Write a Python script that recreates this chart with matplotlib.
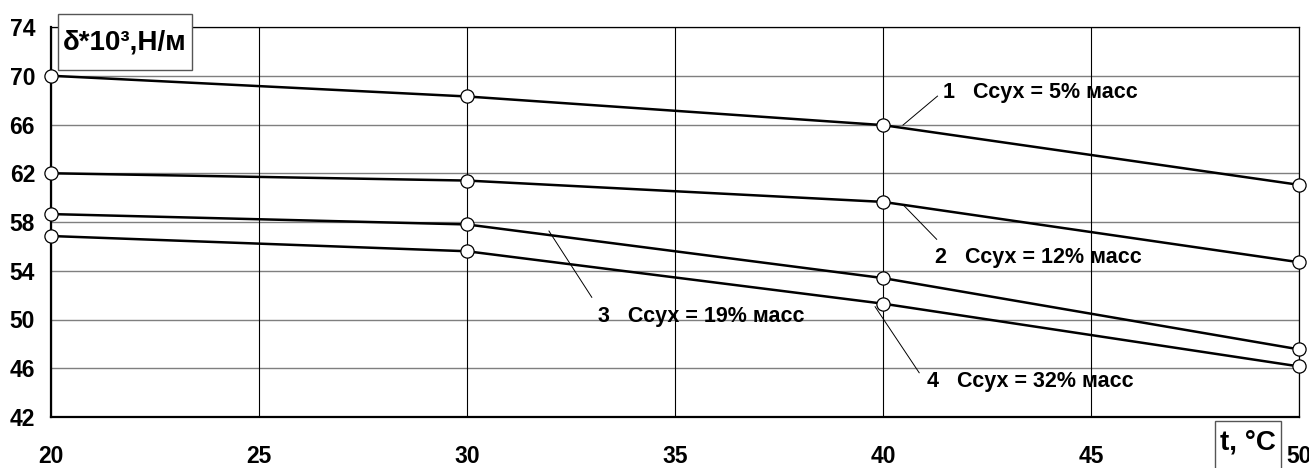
import matplotlib
matplotlib.use("Agg")
import matplotlib.pyplot as plt
from matplotlib.patches import Rectangle

# temperature, °C
t = [20, 30, 40, 50]

# surface tension, δ*10³ N/m, for four dry-matter contents
s1 = [70.0, 68.3, 65.95, 61.05]
s2 = [62.0, 61.4, 59.65, 54.7]
s3 = [58.65, 57.8, 53.4, 47.55]
s4 = [56.85, 55.6, 51.3, 46.15]
series = [s1, s2, s3, s4]

labels = ["1   Ссух = 5% масс", "2   Ссух = 12% масс",
          "3   Ссух = 19% масс", "4   Ссух = 32% масс"]
# leader line start (on curve) / end, label anchor
leader_from = [(40.48, 65.95), (40.49, 59.39), (31.97, 57.26), (39.81, 51.05)]
leader_to = [(41.31, 68.33), (41.29, 56.58), (33.0, 51.82), (40.87, 45.63)]
label_at = [(41.44, 68.66), (41.25, 55.05), (33.16, 50.23), (41.05, 44.9)]

xticks = [20, 25, 30, 35, 40, 45, 50]
yticks = [42, 46, 50, 54, 58, 62, 66, 70, 74]

fonts = ["Liberation Sans", "DejaVu Sans"]

fig = plt.figure(figsize=(13.09, 4.68), dpi=100)
ax = fig.add_axes([51 / 1309, 51 / 468, 1248 / 1309, 390 / 468])
ax.set_xlim(20, 50)
ax.set_ylim(42, 74)

for y in yticks:
    ax.axhline(y, color="#7f7f7f", lw=1.0, zorder=1)
for x in xticks:
    ax.axvline(x, color="black", lw=0.8, zorder=1)

for s in series:
    ax.plot(t, s, color="black", lw=1.8, zorder=3)
    ax.plot(t, s, "o", ms=9.5, mfc="white", mec="black", mew=0.9,
            zorder=4, clip_on=False)

for lab, p0, p1, p in zip(labels, leader_from, leader_to, label_at):
    ax.plot([p0[0], p1[0]], [p0[1], p1[1]], color="black", lw=0.7, zorder=2)
    ax.text(p[0], p[1], lab, ha="left", va="center", fontsize=15.5,
            fontweight="bold", family=fonts, zorder=5)

ax.set_xticks(xticks)
ax.set_yticks(yticks)
ax.set_xticklabels([str(v) for v in xticks], fontsize=16.5, fontweight="bold",
                   family=fonts)
ax.set_yticklabels([str(v) for v in yticks], fontsize=16.5, fontweight="bold",
                   family=fonts)
ax.tick_params(axis="both", length=0)
ax.tick_params(axis="y", pad=11.5)
ax.tick_params(axis="x", pad=20)

for side in ["left", "bottom"]:
    ax.spines[side].set_linewidth(1.6)
for side in ["top", "right"]:
    ax.spines[side].set_linewidth(0.9)

# axis caption boxes
fig.add_artist(Rectangle((57.7 / 1309, 398 / 468), 134.6 / 1309, 56 / 468,
                         transform=fig.transFigure, facecolor="white",
                         edgecolor="#555555", lw=1.0, zorder=10))
fig.text(124.5 / 1309, 425 / 468, "δ*10³,Н/м", ha="center", va="center",
         fontsize=20, fontweight="bold", family=fonts, zorder=11)

fig.add_artist(Rectangle((1215 / 1309, -10 / 468), 66 / 1309, 57.3 / 468,
                         transform=fig.transFigure, facecolor="white",
                         edgecolor="#555555", lw=1.0, zorder=10))
fig.text(1248 / 1309, 25 / 468, "t, °C", ha="center", va="center",
         fontsize=20, fontweight="bold", family=fonts, zorder=11)

fig.savefig("out.png", dpi=100)
